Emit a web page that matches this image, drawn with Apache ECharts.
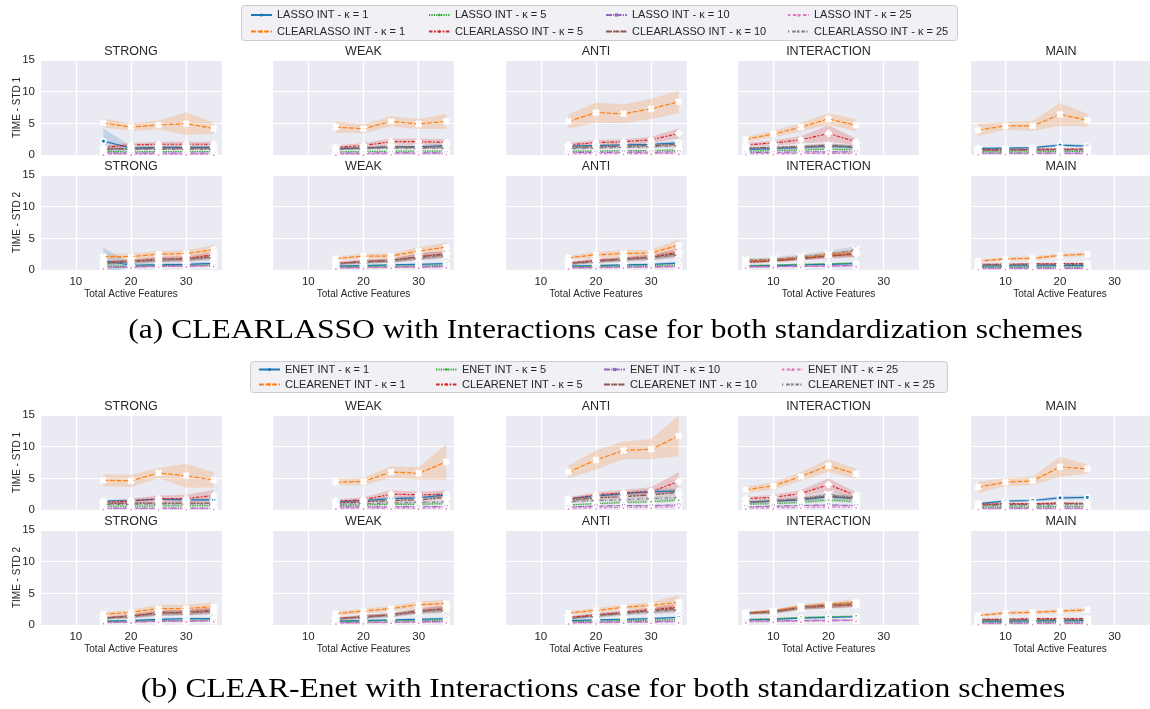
<!DOCTYPE html>
<html>
<head>
<meta charset="utf-8">
<script src="https://cdn.jsdelivr.net/npm/echarts@6/dist/echarts.min.js"></script>
<style>
  html, body { margin: 0; padding: 0; background: #ffffff; }
  #c { width: 1150px; height: 709px; }
</style>
</head>
<body>
<div id="c"></div>
<script>
// ---- data ---------------------------------------------------------------
// x positions (total active features)
const xWide = [15, 20, 25, 30, 35];   // STRONG, WEAK, ANTI
const xNarrow = [5, 10, 15, 20, 25];  // INTERACTION, MAIN

const panelTitles = ['STRONG', 'WEAK', 'ANTI', 'INTERACTION', 'MAIN'];
const xTicks = [10, 20, 30];
const yTicks = [0, 5, 10, 15];

// method order: k1 base, k1 CLEAR, k5 base, k5 CLEAR, k10 base, k10 CLEAR, k25 base, k25 CLEAR
const methodsA = ['LASSO INT - κ = 1', 'CLEARLASSO INT - κ = 1', 'LASSO INT - κ = 5', 'CLEARLASSO INT - κ = 5',
                  'LASSO INT - κ = 10', 'CLEARLASSO INT - κ = 10', 'LASSO INT - κ = 25', 'CLEARLASSO INT - κ = 25'];
const methodsB = ['ENET INT - κ = 1', 'CLEARENET INT - κ = 1', 'ENET INT - κ = 5', 'CLEARENET INT - κ = 5',
                  'ENET INT - κ = 10', 'CLEARENET INT - κ = 10', 'ENET INT - κ = 25', 'CLEARENET INT - κ = 25'];

const captionA = '(a) CLEARLASSO with Interactions case for both standardization schemes';
const captionB = '(b) CLEAR-Enet with Interactions case for both standardization schemes';

// (a) standardization 1 : mean time
const a1_strong = [[2.2,1.1,1.2,1.2,1.2],[5.05,4.4,4.75,4.95,4.2],[0.55,0.5,0.55,0.55,0.55],[1.2,1.6,1.7,1.7,1.7],
                   [0.3,0.3,0.3,0.3,0.3],[1.0,1.0,1.1,1.1,1.1],[0.15,0.15,0.15,0.15,0.15],[0.85,0.9,0.9,0.9,0.9]];
const a1_weak   = [[1.0,1.1,1.3,1.3,1.5],[4.4,4.15,5.3,4.9,5.3],[0.5,0.55,0.6,0.6,0.6],[1.2,1.5,2.1,2.1,2.0],
                   [0.3,0.3,0.35,0.35,0.35],[1.0,1.1,1.3,1.2,1.3],[0.15,0.15,0.2,0.2,0.2],[0.9,1.0,1.1,1.1,1.1]];
const a1_anti   = [[1.4,1.5,1.6,1.7,1.9],[5.3,6.7,6.5,7.3,8.4],[0.6,0.6,0.7,0.7,0.8],[1.6,1.95,2.1,2.4,3.4],
                   [0.4,0.4,0.45,0.45,0.5],[1.2,1.3,1.4,1.5,1.7],[0.2,0.2,0.2,0.25,0.25],[1.0,1.1,1.2,1.3,1.5]];
const a1_inter  = [[0.9,1.0,1.2,1.4,1.2],[2.5,3.3,4.4,5.7,4.7],[0.6,0.7,0.8,0.9,0.8],[1.6,1.9,2.4,3.4,2.1],
                   [0.4,0.4,0.5,0.5,0.5],[1.1,1.2,1.3,1.5,1.3],[0.2,0.2,0.25,0.25,0.25],[1.0,1.1,1.2,1.4,1.3]];
const a1_main   = [[1.05,1.1,1.15,1.55,1.4],[3.95,4.6,4.6,6.4,5.5],[0.5,0.5,0.5,0.55,0.55],[0.85,0.85,0.9,0.95,0.95],
                   [0.3,0.3,0.3,0.3,0.3],[0.75,0.8,0.8,0.85,0.85],[0.2,0.2,0.2,0.2,0.2],[0.7,0.7,0.75,0.75,0.75]];
// (a) standardization 1 : confidence half-width
const a1_strong_ci = [[2.0,0.3,0.3,0.3,0.3],[0.7,0.6,0.7,1.8,0.9],[0.15,0.1,0.1,0.1,0.1],[0.3,0.3,0.4,0.4,0.4],
                      [0.1,0.1,0.1,0.1,0.1],[0.2,0.2,0.2,0.2,0.2],[0.05,0.05,0.05,0.05,0.05],[0.2,0.2,0.2,0.2,0.2]];
const a1_weak_ci   = [[0.2,0.2,0.2,0.2,0.25],[0.9,0.7,0.8,0.8,1.2],[0.1,0.1,0.1,0.1,0.1],[0.3,0.4,0.5,0.5,0.5],
                      [0.1,0.1,0.1,0.1,0.1],[0.2,0.2,0.25,0.25,0.25],[0.05,0.05,0.05,0.05,0.05],[0.2,0.2,0.2,0.2,0.2]];
const a1_anti_ci   = [[0.2,0.2,0.25,0.3,0.3],[1.1,1.6,1.5,1.6,1.8],[0.1,0.1,0.1,0.1,0.15],[0.3,0.4,0.4,0.5,0.8],
                      [0.1,0.1,0.1,0.1,0.1],[0.2,0.2,0.25,0.25,0.3],[0.05,0.05,0.05,0.05,0.05],[0.2,0.2,0.2,0.25,0.3]];
const a1_inter_ci  = [[0.2,0.2,0.25,0.3,0.25],[0.4,0.5,0.7,0.9,1.0],[0.1,0.1,0.15,0.15,0.15],[0.3,0.4,0.6,1.3,0.5],
                      [0.1,0.1,0.1,0.1,0.1],[0.2,0.2,0.25,0.3,0.25],[0.05,0.05,0.05,0.05,0.05],[0.2,0.25,0.3,0.4,0.3]];
const a1_main_ci   = [[0.15,0.15,0.15,0.25,0.2],[1.0,0.6,0.8,1.8,1.0],[0.1,0.1,0.1,0.1,0.1],[0.15,0.15,0.15,0.15,0.15],
                      [0.05,0.05,0.05,0.05,0.05],[0.15,0.15,0.15,0.15,0.15],[0.05,0.05,0.05,0.05,0.05],[0.15,0.15,0.15,0.15,0.15]];

// (a) standardization 2 : mean time
const a2_strong = [[1.5,0.75,0.85,0.9,1.05],[2.1,2.1,2.5,2.6,3.2],[0.6,0.6,0.7,0.7,0.8],[1.2,1.4,1.7,1.8,2.4],
                   [0.4,0.5,0.6,0.6,0.7],[1.1,1.3,1.6,1.7,2.1],[0.35,0.45,0.55,0.6,0.7],[1.0,1.3,1.6,1.7,2.0]];
const a2_weak   = [[0.6,0.7,0.8,0.9,1.0],[1.8,2.2,2.2,3.0,3.6],[0.5,0.55,0.6,0.65,0.7],[1.05,1.35,1.5,2.1,2.5],
                   [0.35,0.4,0.45,0.5,0.55],[1.0,1.3,1.5,2.1,2.5],[0.3,0.35,0.4,0.45,0.5],[0.9,1.2,1.4,1.9,2.3]];
const a2_anti   = [[0.6,0.7,0.8,0.9,1.1],[1.95,2.4,2.6,2.7,3.9],[0.5,0.55,0.6,0.7,0.8],[1.1,1.5,1.75,2.05,2.8],
                   [0.35,0.4,0.45,0.5,0.6],[1.0,1.4,1.7,2.0,2.6],[0.3,0.35,0.4,0.45,0.5],[0.9,1.3,1.6,1.9,2.4]];
const a2_inter  = [[0.6,0.7,0.8,0.9,1.0],[1.4,1.6,1.9,2.4,2.7],[0.7,0.8,0.9,1.0,1.1],[1.3,1.5,1.8,2.2,2.6],
                   [0.5,0.55,0.6,0.65,0.7],[1.2,1.4,1.8,2.2,2.5],[0.45,0.5,0.55,0.6,0.65],[1.6,1.7,2.1,2.5,3.2]];
const a2_main   = [[0.6,0.65,0.65,0.7,0.7],[1.4,1.75,1.85,2.3,2.5],[0.4,0.4,0.4,0.45,0.45],[0.9,0.9,0.95,1.0,1.0],
                   [0.3,0.3,0.3,0.3,0.3],[0.85,0.85,0.9,0.9,0.9],[0.2,0.2,0.2,0.2,0.2],[0.8,0.8,0.8,0.85,0.85]];
// (a) standardization 2 : confidence half-width
const a2_strong_ci = [[2.0,0.3,0.3,0.3,0.3],[0.4,0.5,0.5,0.5,0.7],[0.1,0.1,0.1,0.1,0.1],[0.3,0.3,0.4,0.4,0.5],
                      [0.1,0.1,0.1,0.1,0.1],[0.3,0.3,0.35,0.35,0.4],[0.1,0.1,0.1,0.1,0.1],[0.3,0.3,0.4,0.4,0.5]];
const a2_weak_ci   = [[0.15,0.15,0.15,0.2,0.2],[0.3,0.4,0.4,0.6,0.7],[0.1,0.1,0.1,0.1,0.1],[0.2,0.3,0.3,0.5,0.5],
                      [0.1,0.1,0.1,0.1,0.1],[0.2,0.3,0.3,0.5,0.5],[0.05,0.05,0.05,0.05,0.05],[0.2,0.3,0.3,0.4,0.5]];
const a2_anti_ci   = [[0.15,0.15,0.15,0.2,0.2],[0.3,0.5,0.5,0.5,0.9],[0.1,0.1,0.1,0.1,0.1],[0.2,0.3,0.3,0.4,0.6],
                      [0.1,0.1,0.1,0.1,0.1],[0.2,0.3,0.3,0.4,0.5],[0.05,0.05,0.05,0.05,0.05],[0.2,0.3,0.3,0.4,0.5]];
const a2_inter_ci  = [[0.1,0.1,0.1,0.15,0.15],[0.2,0.3,0.3,0.4,0.5],[0.1,0.1,0.1,0.1,0.1],[0.2,0.25,0.3,0.4,0.5],
                      [0.1,0.1,0.1,0.1,0.1],[0.2,0.25,0.3,0.4,0.5],[0.05,0.05,0.05,0.05,0.05],[0.2,0.3,0.4,0.5,0.6]];
const a2_main_ci   = [[0.1,0.1,0.1,0.1,0.1],[0.2,0.3,0.3,0.3,0.3],[0.05,0.05,0.05,0.05,0.05],[0.15,0.15,0.15,0.15,0.15],
                      [0.05,0.05,0.05,0.05,0.05],[0.15,0.15,0.15,0.15,0.15],[0.05,0.05,0.05,0.05,0.05],[0.1,0.1,0.1,0.1,0.1]];

// (b) standardization 1 : mean time
const b1_strong = [[1.4,1.5,1.7,1.6,1.6],[4.7,4.6,5.85,5.4,4.75],[0.6,0.6,0.65,0.65,0.7],[1.2,1.4,1.8,1.8,2.3],
                   [0.3,0.3,0.3,0.3,0.3],[1.0,1.1,1.1,1.1,1.1],[0.2,0.2,0.2,0.2,0.2],[0.9,0.9,0.95,0.95,0.95]];
const b1_weak   = [[1.3,1.5,1.8,1.9,2.4],[4.4,4.5,6.0,5.8,7.6],[0.7,0.8,0.9,0.9,1.0],[1.4,1.6,2.5,2.4,2.5],
                   [0.5,0.5,0.5,0.55,0.55],[1.1,1.3,1.5,1.6,2.0],[0.3,0.3,0.3,0.3,0.35],[0.9,1.0,1.1,1.2,1.3]];
const b1_anti   = [[1.8,2.2,2.6,2.9,3.0],[6.0,7.9,9.4,9.6,11.7],[0.8,1.0,1.2,1.3,1.6],[1.7,2.4,2.7,2.9,4.5],
                   [0.5,0.6,0.7,0.7,0.8],[1.5,1.9,2.1,2.4,2.8],[0.3,0.35,0.4,0.45,0.5],[1.3,1.5,1.6,1.8,2.0]];
const b1_inter  = [[1.2,1.4,1.6,2.1,1.8],[3.2,3.8,5.3,7.0,5.7],[0.9,1.0,1.2,1.6,1.3],[1.8,2.0,2.6,4.0,2.3],
                   [0.5,0.6,0.7,0.8,0.7],[1.2,1.4,1.7,2.2,1.8],[0.3,0.35,0.4,0.5,0.45],[1.3,1.5,1.8,2.4,2.0]];
const b1_main   = [[1.0,1.4,1.5,1.9,2.0],[3.6,4.4,4.6,6.8,6.5],[0.5,0.5,0.5,0.55,0.55],[0.9,1.0,1.0,1.1,1.0],
                   [0.3,0.3,0.3,0.3,0.3],[0.8,0.9,0.9,1.0,1.0],[0.2,0.2,0.2,0.2,0.2],[0.7,0.75,0.75,0.8,0.8]];
// (b) standardization 1 : confidence half-width
const b1_strong_ci = [[0.2,0.2,0.25,0.25,0.25],[0.95,0.95,0.8,1.9,1.2],[0.1,0.1,0.1,0.1,0.1],[0.2,0.4,0.5,0.6,0.9],
                      [0.05,0.05,0.05,0.05,0.05],[0.2,0.2,0.2,0.2,0.2],[0.05,0.05,0.05,0.05,0.05],[0.15,0.15,0.15,0.15,0.15]];
const b1_weak_ci   = [[0.2,0.2,0.3,0.3,0.4],[0.5,0.6,0.9,1.0,2.8],[0.1,0.1,0.15,0.15,0.15],[0.3,0.4,0.6,0.5,0.6],
                      [0.1,0.1,0.1,0.1,0.1],[0.2,0.2,0.25,0.3,0.3],[0.05,0.05,0.05,0.05,0.05],[0.15,0.15,0.2,0.2,0.2]];
const b1_anti_ci   = [[0.2,0.3,0.3,0.4,0.4],[1.0,1.5,1.4,1.6,3.2],[0.15,0.15,0.2,0.2,0.3],[0.3,0.4,0.5,0.7,1.5],
                      [0.1,0.1,0.1,0.1,0.1],[0.2,0.3,0.3,0.4,0.5],[0.05,0.05,0.05,0.05,0.05],[0.2,0.2,0.25,0.3,0.3]];
const b1_inter_ci  = [[0.2,0.2,0.3,0.4,0.3],[0.5,0.6,0.7,1.0,0.8],[0.15,0.15,0.2,0.3,0.2],[0.3,0.4,0.5,1.0,0.5],
                      [0.1,0.1,0.1,0.1,0.1],[0.2,0.2,0.3,0.4,0.3],[0.05,0.05,0.05,0.1,0.05],[0.2,0.2,0.3,0.4,0.3]];
const b1_main_ci   = [[0.2,0.2,0.2,0.3,0.3],[0.9,0.6,0.7,1.6,0.7],[0.1,0.1,0.1,0.1,0.1],[0.15,0.15,0.15,0.15,0.15],
                      [0.05,0.05,0.05,0.05,0.05],[0.15,0.15,0.15,0.15,0.15],[0.05,0.05,0.05,0.05,0.05],[0.1,0.1,0.1,0.1,0.1]];

// (b) standardization 2 : mean time
const b2_strong = [[0.6,0.7,0.9,1.0,1.0],[1.7,2.0,2.6,2.6,2.9],[0.5,0.6,0.7,0.7,0.8],[1.1,1.4,1.9,2.0,2.3],
                   [0.4,0.5,0.6,0.6,0.7],[1.1,1.4,1.9,1.95,2.2],[0.35,0.45,0.55,0.6,0.65],[1.0,1.3,1.8,1.9,2.2]];
const b2_weak   = [[0.6,0.7,0.8,0.9,1.0],[1.8,2.2,2.6,3.2,3.4],[0.5,0.6,0.65,0.7,0.75],[1.0,1.3,1.6,2.2,2.6],
                   [0.35,0.4,0.45,0.5,0.55],[1.0,1.3,1.6,2.2,2.5],[0.3,0.35,0.4,0.45,0.5],[0.9,1.2,1.5,2.1,2.4]];
const b2_anti   = [[0.7,0.8,0.9,1.0,1.2],[1.9,2.3,2.8,3.1,3.6],[0.55,0.6,0.7,0.75,0.85],[1.2,1.6,2.0,2.4,2.8],
                   [0.4,0.45,0.5,0.55,0.6],[1.1,1.5,1.9,2.3,2.6],[0.3,0.35,0.4,0.45,0.5],[1.0,1.4,1.8,2.1,2.4]];
const b2_inter  = [[0.8,0.9,1.1,1.2,1.3],[1.9,2.2,2.9,3.2,3.6],[0.9,1.0,1.2,1.3,1.4],[1.8,2.1,2.7,3.0,3.2],
                   [0.6,0.65,0.7,0.75,0.8],[1.9,2.1,2.8,3.1,3.3],[0.5,0.55,0.6,0.65,0.7],[1.8,2.0,2.7,3.0,3.3]];
const b2_main   = [[0.6,0.6,0.65,0.65,0.7],[1.5,1.9,2.0,2.2,2.4],[0.4,0.4,0.45,0.45,0.45],[0.9,0.9,1.0,1.0,1.0],
                   [0.3,0.3,0.3,0.3,0.3],[0.8,0.8,0.85,0.85,0.85],[0.2,0.2,0.2,0.2,0.2],[0.75,0.75,0.8,0.8,0.8]];
// (b) standardization 2 : confidence half-width
const b2_strong_ci = [[0.15,0.15,0.2,0.2,0.2],[0.3,0.4,0.6,0.6,0.6],[0.1,0.1,0.1,0.1,0.1],[0.2,0.3,0.4,0.4,0.5],
                      [0.1,0.1,0.1,0.1,0.1],[0.2,0.3,0.4,0.4,0.5],[0.05,0.05,0.05,0.05,0.05],[0.2,0.3,0.4,0.4,0.4]];
const b2_weak_ci   = [[0.15,0.15,0.15,0.2,0.2],[0.3,0.4,0.4,0.5,0.6],[0.1,0.1,0.1,0.1,0.1],[0.2,0.3,0.3,0.4,0.5],
                      [0.1,0.1,0.1,0.1,0.1],[0.2,0.3,0.3,0.4,0.5],[0.05,0.05,0.05,0.05,0.05],[0.2,0.3,0.3,0.4,0.5]];
const b2_anti_ci   = [[0.15,0.15,0.15,0.2,0.2],[0.3,0.4,0.4,0.5,1.1],[0.1,0.1,0.1,0.1,0.1],[0.2,0.3,0.3,0.4,0.6],
                      [0.1,0.1,0.1,0.1,0.1],[0.2,0.3,0.3,0.4,0.5],[0.05,0.05,0.05,0.05,0.05],[0.2,0.3,0.3,0.4,0.5]];
const b2_inter_ci  = [[0.1,0.1,0.15,0.15,0.15],[0.2,0.3,0.4,0.4,0.5],[0.1,0.1,0.1,0.1,0.1],[0.2,0.3,0.3,0.4,0.4],
                      [0.1,0.1,0.1,0.1,0.1],[0.2,0.3,0.3,0.4,0.4],[0.05,0.05,0.05,0.05,0.05],[0.2,0.3,0.3,0.4,0.4]];
const b2_main_ci   = [[0.1,0.1,0.1,0.1,0.1],[0.2,0.3,0.3,0.3,0.3],[0.05,0.05,0.05,0.05,0.05],[0.15,0.15,0.15,0.15,0.15],
                      [0.05,0.05,0.05,0.05,0.05],[0.15,0.15,0.15,0.15,0.15],[0.05,0.05,0.05,0.05,0.05],[0.1,0.1,0.1,0.1,0.1]];

// ---- styling ------------------------------------------------------------
const FONT = '"Liberation Sans", Arial, sans-serif';
const TEXT = '#262626';
const PANEL_BG = '#EAEAF2';
const COLORS = ['#1f77b4', '#ff7f0e', '#2ca02c', '#d62728', '#9467bd', '#8c564b', '#e377c2', '#7f7f7f'];
const DASHES = ['solid', [4.8, 1.8], [1.2, 1.2], [3.6, 1.5, 1.8, 1.5], [6, 1.2, 1.2, 1.2],
                [6, 1.2, 2.4, 1.2, 2.4, 1.2], [2.4, 2.4, 3.6, 1.8], [1.2, 3, 3.6, 1.4]];
const SYMBOLS = ['circle',
  'path://M2,0 L5,3 L8,0 L10,2 L7,5 L10,8 L8,10 L5,7 L2,10 L0,8 L3,5 L0,2 Z',
  'diamond',
  'path://M3.5,0 H6.5 V3.5 H10 V6.5 H6.5 V10 H3.5 V6.5 H0 V3.5 H3.5 Z',
  'rect',
  'path://M5,0 L6.5,3.5 L10,5 L6.5,6.5 L5,10 L3.5,6.5 L0,5 L3.5,3.5 Z',
  'triangle',
  'path://M0,0 L5,3 L10,0 L7,5 L10,10 L5,7 L0,10 L3,5 Z'];

const PANEL_LEFT = [40, 272.5, 505, 737.5, 970];
const PANEL_W = 182, PANEL_H = 95;

const figureRows = [
  { top: 60,  yName: 'TIME - STD 1', xLabels: false, names: methodsA,
    means: [a1_strong, a1_weak, a1_anti, a1_inter, a1_main],
    cis: [a1_strong_ci, a1_weak_ci, a1_anti_ci, a1_inter_ci, a1_main_ci] },
  { top: 175, yName: 'TIME - STD 2', xLabels: true, names: methodsA,
    means: [a2_strong, a2_weak, a2_anti, a2_inter, a2_main],
    cis: [a2_strong_ci, a2_weak_ci, a2_anti_ci, a2_inter_ci, a2_main_ci] },
  { top: 415, yName: 'TIME - STD 1', xLabels: false, names: methodsB,
    means: [b1_strong, b1_weak, b1_anti, b1_inter, b1_main],
    cis: [b1_strong_ci, b1_weak_ci, b1_anti_ci, b1_inter_ci, b1_main_ci] },
  { top: 530, yName: 'TIME - STD 2', xLabels: true, names: methodsB,
    means: [b2_strong, b2_weak, b2_anti, b2_inter, b2_main],
    cis: [b2_strong_ci, b2_weak_ci, b2_anti_ci, b2_inter_ci, b2_main_ci] }
];
const panelX = [xWide, xWide, xWide, xNarrow, xNarrow];

function hexToRgba(hex, a) {
  const n = parseInt(hex.slice(1), 16);
  return 'rgba(' + (n >> 16 & 255) + ',' + (n >> 8 & 255) + ',' + (n & 255) + ',' + a + ')';
}

// confidence band drawn as one polygon through the axis scales
function bandSeries(gi, xs, mean, ci, color) {
  const lo = mean.map((m, i) => m - ci[i]);
  const hi = mean.map((m, i) => m + ci[i]);
  return {
    type: 'custom', xAxisIndex: gi, yAxisIndex: gi, silent: true, clip: true, z: 1,
    data: xs.map((x, i) => [x, lo[i], hi[i]]),
    renderItem: function (params, api) {
      if (params.dataIndex !== 0) return null;
      const upper = xs.map((x, i) => api.coord([x, hi[i]]));
      const lower = xs.map((x, i) => api.coord([x, lo[i]])).reverse();
      return { type: 'polygon', shape: { points: upper.concat(lower) },
               style: { fill: hexToRgba(color, 0.2) }, silent: true };
    }
  };
}

const grids = [], xAxes = [], yAxes = [], series = [], graphics = [];

figureRows.forEach((row, r) => {
  for (let c = 0; c < 5; c++) {
    const gi = grids.length;
    grids.push({ left: PANEL_LEFT[c], top: row.top, width: PANEL_W, height: PANEL_H,
                 show: true, backgroundColor: PANEL_BG, borderWidth: 0 });
    xAxes.push({
      type: 'value', gridIndex: gi, min: 3.5, max: 36.5,
      splitNumber: 3, minInterval: 10, maxInterval: 10,
      axisLine: { show: false }, axisTick: { show: false },
      splitLine: { show: true, lineStyle: { color: '#ffffff', width: 1.2 } },
      axisLabel: { show: row.xLabels, fontSize: 11.5, color: TEXT, fontFamily: FONT, margin: 6,
                   showMinLabel: false, showMaxLabel: false,
                   formatter: v => (xTicks.indexOf(v) >= 0 ? String(v) : '') },
      name: row.xLabels ? 'Total Active Features' : '', nameLocation: 'middle', nameGap: 18,
      nameTextStyle: { fontSize: 10, color: TEXT, fontFamily: FONT }
    });
    yAxes.push({
      type: 'value', gridIndex: gi, min: yTicks[0], max: yTicks[yTicks.length - 1], interval: 5,
      axisLine: { show: false }, axisTick: { show: false },
      splitLine: { show: true, lineStyle: { color: '#ffffff', width: 1.2 } },
      axisLabel: { show: c === 0, fontSize: 11.5, color: TEXT, fontFamily: FONT, margin: 5 },
      name: c === 0 ? row.yName : '', nameLocation: 'middle', nameGap: 18, nameRotate: 90,
      nameMoveOverlap: false,
      nameTextStyle: { fontSize: 10, color: TEXT, fontFamily: FONT }
    });
    graphics.push({ type: 'text', silent: true, x: PANEL_LEFT[c] + PANEL_W / 2, y: row.top - 8.5,
      style: { text: panelTitles[c], fill: TEXT, font: '12.5px ' + FONT,
               textAlign: 'center', textVerticalAlign: 'middle' } });

    const xs = panelX[c];
    const means = row.means[c], cis = row.cis[c];
    for (let k = 0; k < 8; k++) {
      series.push(bandSeries(gi, xs, means[k], cis[k], COLORS[k]));
    }
    for (let k = 0; k < 8; k++) {
      series.push({
        type: 'line', name: row.names[k], xAxisIndex: gi, yAxisIndex: gi, z: 3,
        data: xs.map((x, i) => [x, means[k][i]]),
        symbol: SYMBOLS[k], symbolSize: 5, showSymbol: true,
        lineStyle: { color: COLORS[k], width: 1.2, type: DASHES[k] },
        itemStyle: { color: COLORS[k], borderColor: '#ffffff', borderWidth: 1.8 },
        emphasis: { disabled: true }, silent: true
      });
    }
  }
});

// legends: one component per entry, laid out as 4 columns x 2 rows
const legends = [];
function addLegendBlock(names, colLefts, rowCenters) {
  names.forEach((n, i) => {
    legends.push({
      data: [n], left: colLefts[Math.floor(i / 2)], top: rowCenters[i % 2] - 7,
      padding: 0, itemWidth: 21, itemHeight: 4, itemGap: 0, selectedMode: false,
      itemStyle: { borderWidth: 0 },
      textStyle: { fontSize: 11, color: TEXT, fontFamily: FONT }
    });
  });
}
addLegendBlock(methodsA, [250, 428, 605, 787], [16.5, 33]);
addLegendBlock(methodsB, [258, 435, 603, 781], [371, 386]);

graphics.push({ type: 'rect', silent: true, z: -1,
  shape: { x: 241.5, y: 5.5, width: 716, height: 35, r: 3 },
  style: { fill: '#F0F0F5', stroke: '#CCCCCC', lineWidth: 1 } });
graphics.push({ type: 'rect', silent: true, z: -1,
  shape: { x: 250.5, y: 361.5, width: 697, height: 31, r: 3 },
  style: { fill: '#F0F0F5', stroke: '#CCCCCC', lineWidth: 1 } });

// captions
graphics.push({ type: 'text', silent: true, x: 605.5, y: 331, scaleX: 1.17,
  style: { text: captionA, fill: '#000000', font: '27px "Liberation Serif", "Times New Roman", serif',
           textAlign: 'center', textVerticalAlign: 'middle' } });
graphics.push({ type: 'text', silent: true, x: 603, y: 690, scaleX: 1.17,
  style: { text: captionB, fill: '#000000', font: '27px "Liberation Serif", "Times New Roman", serif',
           textAlign: 'center', textVerticalAlign: 'middle' } });

const chart = echarts.init(document.getElementById('c'), null, { renderer: 'canvas' });
chart.setOption({
  animation: false,
  backgroundColor: '#ffffff',
  grid: grids, xAxis: xAxes, yAxis: yAxes,
  legend: legends,
  series: series,
  graphic: { elements: graphics }
});
</script>
</body>
</html>
